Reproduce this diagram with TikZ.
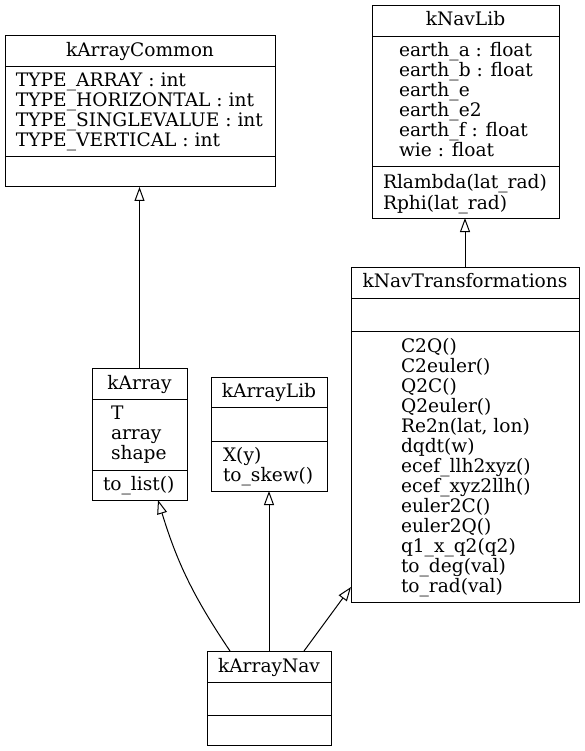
\documentclass[tikz,border=0pt]{standalone}
\usepackage{fontspec}
\setmainfont{DejaVu Serif}
\usetikzlibrary{arrows.meta,calc}
\begin{document}
\begin{tikzpicture}[x=1pt,y=-1pt,
  cls/.style={draw, line width=1pt, inner sep=0pt, outer sep=0pt, anchor=north west},
  div/.style={line width=1pt},
  txt/.style={inner sep=0pt, outer sep=0pt, font=\fontsize{18.6}{20}\selectfont},
  inh/.style={line width=1pt, -{Triangle[open, length=14pt, width=10pt]}}]
\useasboundingbox (0,0) rectangle (585,751);
% kArrayCommon
\node[cls, minimum width=270pt, minimum height=151pt] (kArrayCommon) at (5,36) {};
\draw[div] (5,67) -- (275,67);
\draw[div] (5,157) -- (275,157);
\node[txt, anchor=base] (kArrayCommonT) at (140,57) {kArrayCommon};
\foreach \t [count=\i from 0] in {TYPE\_ARRAY : int, TYPE\_HORIZONTAL : int, TYPE\_SINGLEVALUE : int, TYPE\_VERTICAL : int}
  \node[txt, anchor=base west] (kacA\i) at (16,87+20*\i) {\t};
% kNavLib
\node[cls, minimum width=187pt, minimum height=212pt] (kNavLib) at (372,6) {};
\draw[div] (372,37) -- (559,37);
\draw[div] (372,167) -- (559,167);
\node[txt, anchor=base] (kNavLibT) at (465.5,26) {kNavLib};
\foreach \t [count=\i from 0] in {earth\_a : float, earth\_b : float, earth\_e, earth\_e2, earth\_f : float, wie : float}
  \node[txt, anchor=base west] (nlA\i) at (399,57+20*\i) {\t};
\foreach \t [count=\i from 0] in {Rlambda(lat\_rad), Rphi(lat\_rad)}
  \node[txt, anchor=base west] (nlM\i) at (383,189+20*\i) {\t};
% kNavTransformations
\node[cls, minimum width=228pt, minimum height=335pt] (kNavTransformations) at (351,267) {};
\draw[div] (351,298) -- (579,298);
\draw[div] (351,331) -- (579,331);
\node[txt, anchor=base] (kNavTransformationsT) at (465,287) {kNavTransformations};
\foreach \t [count=\i from 0] in {C2Q(), C2euler(), Q2C(), Q2euler(), {Re2n(lat, lon)}, dqdt(w), ecef\_llh2xyz(), ecef\_xyz2llh(), euler2C(), euler2Q(), q1\_x\_q2(q2), to\_deg(val), to\_rad(val)}
  \node[txt, anchor=base west] (ntM\i) at (401,352+20*\i) {\t};
% kArray
\node[cls, minimum width=95pt, minimum height=132pt] (kArray) at (92,368) {};
\draw[div] (92,399) -- (187,399);
\draw[div] (92,470) -- (187,470);
\node[txt, anchor=base] (kArrayT) at (139.5,389) {kArray};
\foreach \t [count=\i from 0] in {T, array, shape}
  \node[txt, anchor=base west] (kaA\i) at (111,419+20*\i) {\t};
\node[txt, anchor=base west] (kaM0) at (103,490) {to\_list()};
% kArrayLib
\node[cls, minimum width=116pt, minimum height=114pt] (kArrayLib) at (211,377) {};
\draw[div] (211,407) -- (327,407);
\draw[div] (211,441) -- (327,441);
\node[txt, anchor=base] (kArrayLibT) at (269,397) {kArrayLib};
\foreach \t [count=\i from 0] in {X(y), to\_skew()}
  \node[txt, anchor=base west] (klM\i) at (223,461+20*\i) {\t};
% kArrayNav
\node[cls, minimum width=124pt, minimum height=94pt] (kArrayNav) at (207,651) {};
\draw[div] (207,682) -- (331,682);
\draw[div] (207,715) -- (331,715);
\node[txt, anchor=base] (kArrayNavT) at (269,672) {kArrayNav};
% inheritance
\draw[inh] (kArray.north) -- (kArray.north |- kArrayCommon.south);
\draw[inh] (kNavTransformations.north) -- (kNavTransformations.north |- kNavLib.south);
\draw[inh] (kArrayNav.north) -- (kArrayLib.south);
\draw[inh] ($(kArrayNav.north west)+(23,0)$) to[out=124,in=-73] ($(kArray.south west)+(66,0)$);
\draw[inh] ($(kArrayNav.north west)+(97,0)$) -- ($(kNavTransformations.south west)+(0,-15)$);
\end{tikzpicture}
\end{document}
